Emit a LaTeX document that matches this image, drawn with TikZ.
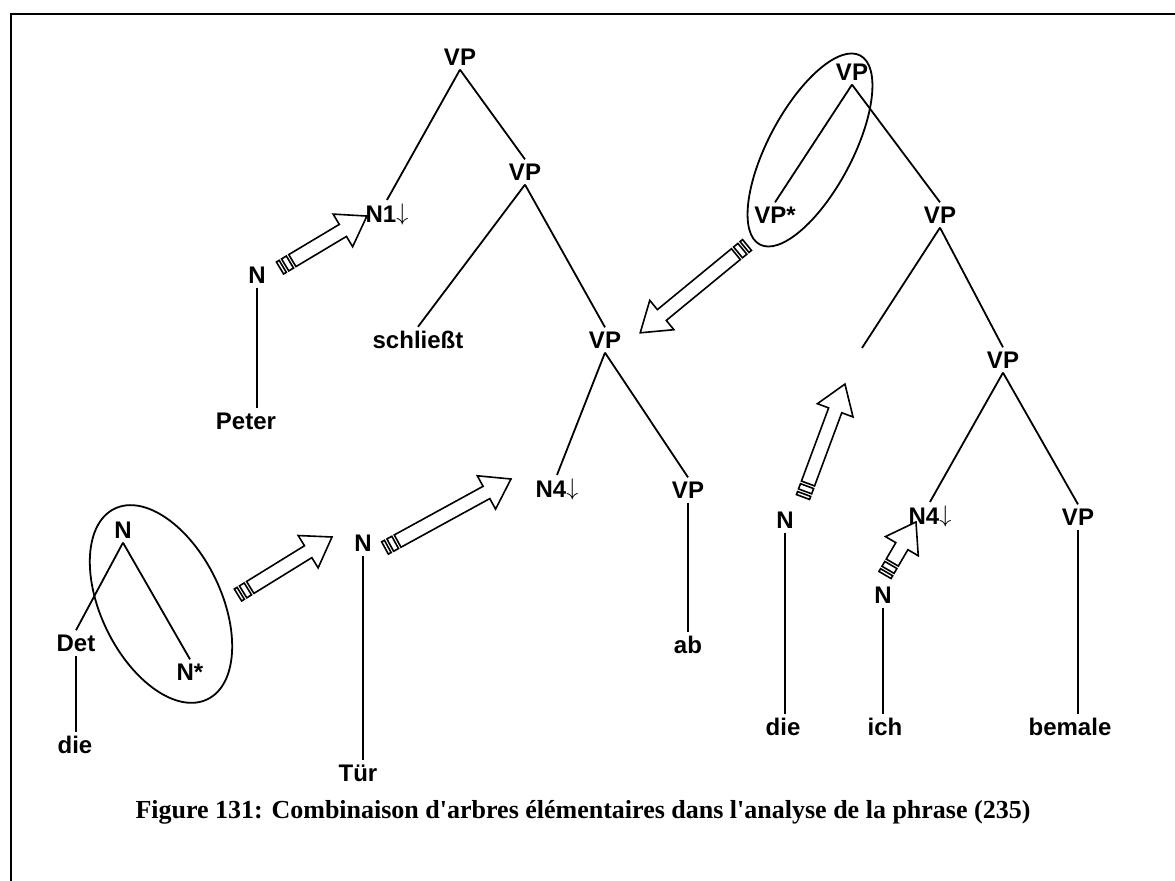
\documentclass[tikz,border=0pt]{standalone}
\usepackage{fontspec}
\setmainfont{Liberation Serif}
\newfontfamily\treefont{Liberation Sans}
\usetikzlibrary{calc}
\tikzset{
  cat/.style={
    font={\treefont\bfseries\fontsize{12}{14}\selectfont},
    inner sep=2pt,
  },
  branch/.style={
    draw=black,
    line width=0.9pt,
  },
  ring/.style={
    draw=black,
    line width=0.9pt,
  },
  fatline/.style={
    draw=black,
    fill=white,
    line width=0.8pt,
    line join=miter,
  },
  frameline/.style={
    draw=black,
    line width=1.3pt,
  }
}
\newcommand{\sub}{\raisebox{0.07em}{$\downarrow$}}
% block arrow with two bars at its tail, from #1 to #2
\newcommand{\fatarrow}[2]{%
  \path let \p1=($(#2)-(#1)$) in
    \pgfextra{\pgfmathsetmacro\faA{atan2(\y1,\x1)}\pgfmathsetmacro\faL{veclen(\x1,\y1)}%
      \global\let\faA\faA\global\let\faL\faL};
  \begin{scope}[shift={(#1)}, rotate=\faA, x=1pt, y=1pt]
    \draw[fatline] (0,-3.5) rectangle (1.6,3.5);
    \draw[fatline] (3,-3.5) rectangle (5.8,3.5);
    \draw[fatline] (7.2,-3.5) -- (\faL-14,-3.5) -- (\faL-14,-9.5) -- (\faL,0)
      -- (\faL-14,9.5) -- (\faL-14,3.5) -- (7.2,3.5) -- cycle;
  \end{scope}
}

\begin{document}
\begin{tikzpicture}[x=0.5pt, y=-0.5pt]
  \useasboundingbox (0,0) rectangle (1175,881);
  \draw[frameline] (11,881) -- (11,14) -- (1175,14);

  % tree with schließt
  \node[cat] (vp1)   at (460,57)  {VP};
  \node[cat] (n1)    at (387,215) {N1\sub};
  \node[cat] (vp2)   at (525,172) {VP};
  \node[cat] (schl)  at (418,340) {schließt};
  \node[cat] (vp3)   at (605,340) {VP};
  \node[cat] (n4)    at (557,490) {N4\sub};
  \node[cat] (vp4)   at (688,490) {VP};
  \node[cat] (ab)    at (688,645) {ab};

  \draw[branch] (vp1.south) -- (n1.north);
  \draw[branch] (vp1.south) -- (vp2.north);
  \draw[branch] (vp2.south) -- (schl.north);
  \draw[branch] (vp2.south) -- (vp3.north);
  \draw[branch] (vp3.south) -- (n4.north);
  \draw[branch] (vp3.south) -- (vp4.north);
  \draw[branch] (vp4.south) -- (vp4.south |- ab.north);

  % Peter
  \node[cat] (np)    at (257,275) {N};
  \node[cat] (peter) at (246,421) {Peter};
  \draw[branch] (np.south) -- (np.south |- peter.north);

  % die + N*
  \node[cat] (nd)    at (123,530) {N};
  \node[cat] (det)   at (76,643)  {Det};
  \node[cat] (nstar) at (190,672) {N*};
  \node[cat] (die1)  at (75,745)  {die};
  \draw[branch] (nd.south) -- (det.north);
  \draw[branch] (nd.south) -- (nstar.north);
  \draw[branch] (det.south) -- (det.south |- die1.north);
  \draw[ring, rotate around={-64:(161,604)}] (161,604) ellipse [x radius=106, y radius=60];

  % Tür
  \node[cat] (nt)    at (363,543) {N};
  \node[cat] (tuer)  at (358,773) {Tür};
  \draw[branch] (nt.south) -- (nt.south |- tuer.north);

  % tree with bemale
  \node[cat] (vpa)   at (852,72)  {VP};
  \node[cat] (vpst)  at (775,215) {VP*};
  \node[cat] (vpb)   at (940,215) {VP};
  \coordinate (gap)  at (862,348);
  \node[cat] (vpc)   at (1003,360) {VP};
  \node[cat] (n4b)   at (930,517) {N4\sub};
  \node[cat] (vpd)   at (1078,517) {VP};
  \node[cat] (bem)   at (1070,727) {bemale};

  \draw[branch] (vpa.south) -- (vpst.north);
  \draw[branch] (vpa.south) -- (vpb.north);
  \draw[branch] (vpb.south) -- (gap);
  \draw[branch] (vpb.south) -- (vpc.north);
  \draw[branch] (vpc.south) -- (n4b.north);
  \draw[branch] (vpc.south) -- (vpd.north);
  \draw[branch] (vpd.south) -- (vpd.south |- bem.north);
  \draw[ring, rotate around={62:(810,150)}] (810,150) ellipse [x radius=107, y radius=42];

  % ich, die
  \node[cat] (ni)    at (883,595) {N};
  \node[cat] (ich)   at (885,727) {ich};
  \draw[branch] (ni.south) -- (ni.south |- ich.north);
  \node[cat] (ndie)  at (785,520) {N};
  \node[cat] (die2)  at (783,727) {die};
  \draw[branch] (ndie.south) -- (ndie.south |- die2.north);

  % substitution / adjunction arrows
  \coordinate (a1s) at (280,268);  \coordinate (a1e) at (367,216);
  \coordinate (a2s) at (747,245);  \coordinate (a2e) at (640,333);
  \coordinate (a3s) at (238,595);  \coordinate (a3e) at (332,537);
  \coordinate (a4s) at (385,548);  \coordinate (a4e) at (511,479);
  \coordinate (a5s) at (803,497);  \coordinate (a5e) at (845,384);
  \coordinate (a6s) at (885,575);  \coordinate (a6e) at (916,522);
  \fatarrow{a1s}{a1e}
  \fatarrow{a2s}{a2e}
  \fatarrow{a3s}{a3e}
  \fatarrow{a4s}{a4e}
  \fatarrow{a5s}{a5e}
  \fatarrow{a6s}{a6e}

  \node[font={\bfseries\fontsize{13}{15}\selectfont}] (caption) at (583,812)
    {Figure 131: Combinaison d\textquotesingle arbres élémentaires dans l\textquotesingle analyse de la phrase (235)};
\end{tikzpicture}
\end{document}
